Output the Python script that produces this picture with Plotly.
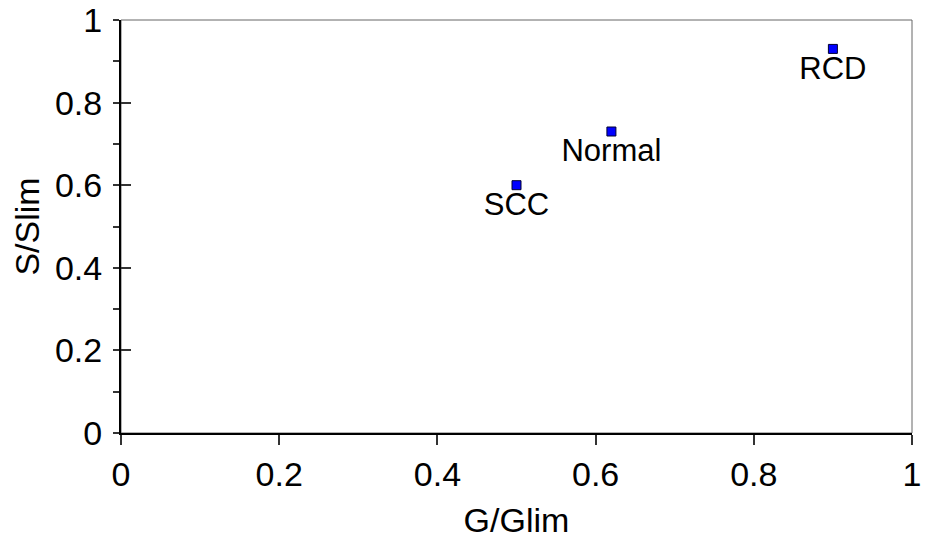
import plotly.graph_objects as go

names = ["SCC", "Normal", "RCD"]
g_ratio = [0.50, 0.62, 0.90]
s_ratio = [0.60, 0.73, 0.93]

x_ticks = [0, 0.2, 0.4, 0.6, 0.8, 1]
x_tick_text = ["0", "0.2", "0.4", "0.6", "0.8", "1"]
y_ticks = [0, 0.2, 0.4, 0.6, 0.8, 1]
y_tick_text = ["0", "0.2", "0.4", "0.6", "0.8", "1"]

FONT = "Liberation Sans, Arial, sans-serif"

fig = go.Figure()
fig.add_trace(go.Scatter(
    x=g_ratio, y=s_ratio, mode="markers+text",
    text=names, textposition="bottom center",
    textfont=dict(family=FONT, size=31, color="#000000"),
    marker=dict(symbol="square", size=9, color="#0000ff",
                line=dict(color="#000033", width=1)),
    showlegend=False, cliponaxis=False,
))
# invisible trace to bind the overlay y-axis (inside major ticks)
fig.add_trace(go.Scatter(x=[None], y=[None], yaxis="y2", showlegend=False,
                         hoverinfo="skip"))

fig.update_layout(
    width=925, height=540,
    margin=dict(l=121, r=13, t=20, b=107, autoexpand=False),
    paper_bgcolor="white", plot_bgcolor="white",
    font=dict(family=FONT, size=34, color="#000000"),
    xaxis=dict(
        range=[0, 1], tickvals=x_ticks, ticktext=x_tick_text,
        showgrid=False, zeroline=False, automargin=False,
        showline=True, linecolor="#000000", linewidth=2,
        ticks="outside", ticklen=10, tickwidth=1.5, tickcolor="#333333",
        tickfont=dict(size=34), ticklabeloverflow="allow",
        title=dict(text="G/Glim", font=dict(size=34), standoff=16),
    ),
    yaxis=dict(
        range=[0, 1], tickvals=y_ticks, ticktext=y_tick_text,
        showgrid=False, zeroline=False, automargin=False,
        showline=True, linecolor="#000000", linewidth=2,
        ticks="outside", ticklen=6, tickwidth=1.5, tickcolor="#333333",
        minor=dict(dtick=0.1, tick0=0, ticks="outside", ticklen=6,
                   tickwidth=1.5, tickcolor="#333333"),
        tickfont=dict(size=34), ticklabeloverflow="allow",
        ticklabelstandoff=4,
        title=dict(text="S/Slim", font=dict(size=34), standoff=5),
    ),
    yaxis2=dict(
        range=[0, 1], overlaying="y", side="left", automargin=False,
        tickvals=y_ticks, showticklabels=False,
        showgrid=False, zeroline=False, showline=False,
        ticks="inside", ticklen=10, tickwidth=1.5, tickcolor="#333333",
    ),
    shapes=[dict(type="rect", xref="paper", yref="paper",
                 x0=0, x1=1, y0=0, y1=1,
                 line=dict(color="#666666", width=1), layer="below")],
)

fig.write_html("out.html", config={"displayModeBar": False},
               post_script="document.body.style.margin='0';")
